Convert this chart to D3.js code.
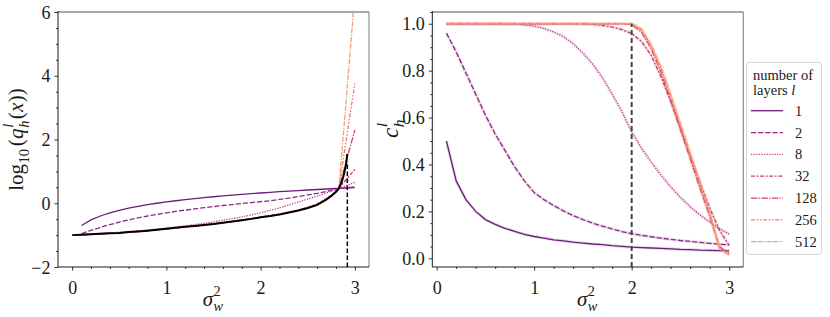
<!DOCTYPE html>
<html><head><meta charset="utf-8">
<script src="https://cdn.jsdelivr.net/npm/d3@7"></script>
<style>body{margin:0;background:#fff}svg{display:block}</style>
</head><body>
<svg id="chart" width="830" height="317"></svg>
<script>
// ---------------- DATA ----------------
const layers = [1, 2, 8, 32, 128, 256, 512];

// left panel: log10 q_h^l(x) vs sigma_w^2
const sigmaLeft = [0.1,0.2,0.3,0.4,0.5,0.6,0.7,0.8,0.9,1.0,1.1,1.2,1.3,1.4,1.5,1.6,1.7,1.8,1.9,2.0,2.1,2.2,2.3,2.4,2.5,2.6,2.7,2.75,2.8,2.83,2.86,2.9,2.95,3.0];
const logQ_l1   = [-0.70,-0.52,-0.40,-0.30,-0.22,-0.155,-0.10,-0.046,0.0,0.041,0.079,0.114,0.146,0.176,0.204,0.230,0.255,0.279,0.301,0.322,0.342,0.362,0.380,0.398,0.415,0.431,0.447,0.455,0.462,0.466,0.471,0.477,0.484,0.491];
const logQ_l2   = [-0.95,-0.85,-0.76,-0.67,-0.59,-0.52,-0.46,-0.40,-0.35,-0.30,-0.255,-0.215,-0.175,-0.14,-0.105,-0.07,-0.04,-0.01,0.02,0.05,0.08,0.12,0.16,0.21,0.26,0.31,0.37,0.40,0.43,0.455,0.465,0.48,0.50,0.52];
const logQ_l8   = [-0.975,-0.96,-0.945,-0.93,-0.91,-0.89,-0.865,-0.84,-0.81,-0.78,-0.745,-0.71,-0.67,-0.63,-0.585,-0.535,-0.48,-0.425,-0.365,-0.30,-0.225,-0.145,-0.055,0.04,0.13,0.225,0.325,0.38,0.43,0.465,0.50,0.545,0.60,0.66];
const logQ_l32  = [-0.985,-0.972,-0.958,-0.943,-0.928,-0.904,-0.884,-0.858,-0.828,-0.798,-0.768,-0.738,-0.708,-0.677,-0.646,-0.606,-0.566,-0.525,-0.484,-0.433,-0.392,-0.340,-0.278,-0.213,-0.13,-0.02,0.15,0.26,0.38,0.466,0.575,0.715,0.89,1.06];
const logQ_l128 = [-0.99,-0.975,-0.96,-0.945,-0.93,-0.905,-0.885,-0.86,-0.83,-0.80,-0.77,-0.74,-0.71,-0.68,-0.65,-0.61,-0.57,-0.53,-0.49,-0.44,-0.40,-0.35,-0.29,-0.23,-0.15,-0.05,0.12,0.23,0.36,0.466,0.79,1.23,1.77,2.3];
const logQ_l256 = [-0.99,-0.975,-0.96,-0.945,-0.93,-0.905,-0.885,-0.86,-0.83,-0.80,-0.77,-0.74,-0.71,-0.68,-0.65,-0.61,-0.57,-0.53,-0.49,-0.44,-0.40,-0.35,-0.29,-0.23,-0.15,-0.05,0.12,0.23,0.36,0.466,1.05,1.83,2.8,3.76];
const logQ_l512 = [-0.99,-0.975,-0.96,-0.945,-0.93,-0.905,-0.885,-0.86,-0.83,-0.80,-0.77,-0.74,-0.71,-0.68,-0.65,-0.61,-0.57,-0.53,-0.49,-0.44,-0.40,-0.35,-0.29,-0.23,-0.15,-0.05,0.12,0.23,0.36,0.466,1.5,2.95,4.75,6.6];

// fixed point q* (black)
const sigmaFixed = [0,0.1,0.2,0.3,0.4,0.5,0.6,0.7,0.8,0.9,1.0,1.1,1.2,1.3,1.4,1.5,1.6,1.7,1.8,1.9,2.0,2.1,2.2,2.3,2.4,2.5,2.6,2.7,2.75,2.8,2.83,2.86,2.88,2.9,2.91,2.92];
const logQFixed  = [-1.0,-0.99,-0.975,-0.96,-0.945,-0.93,-0.905,-0.885,-0.86,-0.83,-0.80,-0.77,-0.74,-0.71,-0.68,-0.65,-0.61,-0.57,-0.53,-0.49,-0.44,-0.40,-0.35,-0.29,-0.23,-0.15,-0.05,0.12,0.23,0.36,0.466,0.66,0.86,1.12,1.3,1.55];
const criticalLeft = 2.92, criticalLeftTop = 1.3;

// right panel: correlation c_h^l vs sigma_w^2
const sigmaRight = [0.1,0.2,0.3,0.4,0.5,0.6,0.7,0.8,0.9,1.0,1.1,1.2,1.3,1.4,1.5,1.6,1.7,1.8,1.9,2.0,2.1,2.2,2.3,2.4,2.5,2.6,2.7,2.8,2.9,3.0];
const corr_l1   = [0.50,0.33,0.25,0.20,0.165,0.145,0.128,0.115,0.102,0.093,0.086,0.079,0.074,0.069,0.065,0.061,0.058,0.054,0.051,0.048,0.046,0.044,0.042,0.040,0.038,0.037,0.035,0.034,0.033,0.032];
const corr_l2   = [0.96,0.88,0.79,0.70,0.61,0.53,0.46,0.39,0.33,0.28,0.25,0.225,0.202,0.182,0.165,0.15,0.137,0.125,0.114,0.105,0.098,0.092,0.086,0.081,0.076,0.072,0.068,0.064,0.060,0.057];
const corr_l8   = [1.0,1.0,1.0,1.0,1.0,1.0,0.999,0.998,0.995,0.99,0.98,0.965,0.945,0.915,0.875,0.828,0.77,0.70,0.625,0.54,0.47,0.41,0.355,0.305,0.26,0.22,0.185,0.155,0.127,0.103];
const corr_l32  = [1.0,1.0,1.0,1.0,1.0,1.0,1.0,1.0,1.0,1.0,1.0,1.0,1.0,1.0,0.999,0.997,0.993,0.986,0.975,0.958,0.925,0.865,0.775,0.67,0.555,0.44,0.325,0.215,0.12,0.055];
const corr_l128 = [1.0,1.0,1.0,1.0,1.0,1.0,1.0,1.0,1.0,1.0,1.0,1.0,1.0,1.0,1.0,1.0,1.0,1.0,1.0,0.997,0.965,0.895,0.795,0.675,0.55,0.425,0.30,0.18,0.05,0.02];
const corr_l256 = [1.0,1.0,1.0,1.0,1.0,1.0,1.0,1.0,1.0,1.0,1.0,1.0,1.0,1.0,1.0,1.0,1.0,1.0,1.0,1.0,0.975,0.905,0.81,0.69,0.565,0.44,0.315,0.19,0.045,0.016];
const corr_l512 = [1.0,1.0,1.0,1.0,1.0,1.0,1.0,1.0,1.0,1.0,1.0,1.0,1.0,1.0,1.0,1.0,1.0,1.0,1.0,1.0,0.978,0.91,0.818,0.70,0.575,0.45,0.325,0.20,0.04,0.014];
const criticalRight = 2.0, criticalRightTop = 1.0;

// ticks
const leftXTicks = [0, 1, 2, 3];
const leftYTicks = [-2, 0, 2, 4, 6];
const rightXTicks = [0, 1, 2, 3];
const rightYTicks = [0.0, 0.2, 0.4, 0.6, 0.8, 1.0];
const legendTitle = ["number of", "layers "];

// ---------------- STYLE ----------------
const colors = ["#6c1d78", "#8e2b81", "#b8458c", "#c93a70", "#dc4558", "#f07a68", "#f5a078"];
const lw = 1.3;
const dashes = [null, [4,1.5], [1,1], [3,1.25,1.5,1.25], [5,1,1,1], [3,1.25,1.25,1.25,1.25,1.25], [4,1,4,1,1,1]]
  .map(d => d ? d.map(v => (v*lw).toFixed(2)).join(",") : null);
const INK = "#1a1a1a";

function pickFont(cands) {
  const c = document.createElement("canvas").getContext("2d");
  const probe = "mmmwwwlliI0123456789 Hqxgy";
  for (const f of cands) {
    for (const base of ["monospace", "sans-serif"]) {
      c.font = `40px ${base}`; const w0 = c.measureText(probe).width;
      c.font = `40px "${f}", ${base}`; const w1 = c.measureText(probe).width;
      if (Math.abs(w1 - w0) > 0.5) return `"${f}"`;
    }
  }
  return "serif";
}
const SERIF = pickFont(["Liberation Serif", "DejaVu Serif", "Noto Serif", "Times New Roman", "FreeSerif", "Tinos"]) + ", serif";

const leftSeries = [logQ_l1, logQ_l2, logQ_l8, logQ_l32, logQ_l128, logQ_l256, logQ_l512];
const rightSeries = [corr_l1, corr_l2, corr_l8, corr_l32, corr_l128, corr_l256, corr_l512];

const svg = d3.select("#chart");

// ---------------- helpers ----------------
function styleText(sel, size) {
  sel.attr("font-family", SERIF).style("font-family", SERIF).style("font-size", size + "px").attr("fill", INK);
}
function mathText(parent, tokens, fs, subShift, supShift) {
  const g = parent.append("g");
  const sh = subShift == null ? 0.22 : subShift;
  const up = supShift == null ? 0.42 : supShift;
  let x = 0;
  const mk = (xx, yy, s, it, txt) => {
    const t = g.append("text").attr("x", xx).attr("y", yy).text(txt);
    styleText(t, s);
    t.style("font-style", it ? "italic" : "normal");
    return t;
  };
  tokens.forEach(tok => {
    if (tok.stack) {
      const s = fs * 0.68;
      const a = mk(x, -fs * up, s, tok.supIt, tok.sup);
      const b = mk(x, fs * sh, s, tok.subIt, tok.sub);
      x += Math.max(a.node().getComputedTextLength(), b.node().getComputedTextLength()) + fs * 0.06;
    } else {
      const s = tok.sub ? fs * 0.7 : fs;
      const t = mk(x, tok.sub ? fs * sh : 0, s, tok.it, tok.t);
      x += t.node().getComputedTextLength() + (tok.kern || 0) * fs;
    }
  });
  g.attr("transform", `translate(${-x / 2},0)`);
  return g;
}

function panel(opts) {
  const { x, y, xTicks, yTicks, xMinor, yMinor, yFmt, id } = opts;
  const [x0, x1] = x.range(), [y1, y0] = y.range();
  const g = svg.append("g");
  svg.append("clipPath").attr("id", id).append("rect")
    .attr("x", x0).attr("y", y0).attr("width", x1 - x0).attr("height", y1 - y0);

  const minorX = g.append("g").attr("transform", `translate(0,${y1})`)
    .call(d3.axisBottom(x).tickValues(xMinor).tickSize(2).tickFormat(""));
  const minorY = g.append("g").attr("transform", `translate(${x0},0)`)
    .call(d3.axisLeft(y).tickValues(yMinor).tickSize(2).tickFormat(""));
  const ax = g.append("g").attr("transform", `translate(0,${y1})`)
    .call(d3.axisBottom(x).tickValues(xTicks).tickSize(3.5).tickPadding(6).tickFormat(d3.format("d")));
  const ay = g.append("g").attr("transform", `translate(${x0},0)`)
    .call(d3.axisLeft(y).tickValues(yTicks).tickSize(3.5).tickPadding(4).tickFormat(yFmt));
  [minorX, minorY, ax, ay].forEach(a => {
    a.attr("font-family", SERIF).attr("font-size", null);
    a.select(".domain").remove();
    a.selectAll("line").attr("stroke", INK).attr("stroke-width", 0.9);
    styleText(a.selectAll("text"), 18);
  });
  ax.selectAll("text").attr("dy", "0.95em");
  ay.selectAll("text").attr("dy", "0.34em");

  const plot = svg.append("g").attr("clip-path", `url(#${id})`);
  const spines = () => {
    const s = svg.append("g");
    s.append("line").attr("x1", x0).attr("x2", x1).attr("y1", y0).attr("y2", y0).attr("stroke", "#a8a8a8").attr("stroke-width", 2);
    s.append("line").attr("x1", x1).attr("x2", x1).attr("y1", y0).attr("y2", y1).attr("stroke", "#8f8f8f").attr("stroke-width", 1.2);
    s.append("line").attr("x1", x0).attr("x2", x0).attr("y1", y0 - 1).attr("y2", y1).attr("stroke", INK).attr("stroke-width", 1);
    s.append("line").attr("x1", x0).attr("x2", x1).attr("y1", y1).attr("y2", y1).attr("stroke", INK).attr("stroke-width", 1);
  };
  return { plot, spines };
}

// ---------------- LEFT PANEL ----------------
const xL = d3.scaleLinear([-0.15, 3.15], [58, 369]);
const yL = d3.scaleLinear([-2, 6], [267, 12]);
const minorL_x = d3.range(0, 3.01, 0.2).map(v => +v.toFixed(2)).filter(v => !leftXTicks.includes(v));
const minorL_y = d3.range(-2, 6.01, 0.5).filter(v => !leftYTicks.includes(v));
const L = panel({ x: xL, y: yL, xTicks: leftXTicks, yTicks: leftYTicks, xMinor: minorL_x, yMinor: minorL_y,
  yFmt: d => (d < 0 ? "\u2212" + Math.abs(d) : "" + d), id: "clipL" });

const lineL = d3.line().x(d => xL(d[0])).y(d => yL(d[1]));
layers.forEach((l, i) => {
  L.plot.append("path")
    .attr("d", lineL(sigmaLeft.map((s, j) => [s, leftSeries[i][j]])))
    .attr("fill", "none").attr("stroke", colors[i]).attr("stroke-width", lw)
    .attr("stroke-dasharray", dashes[i]);
});
L.plot.append("path")
  .attr("d", lineL(sigmaFixed.map((s, j) => [s, logQFixed[j]])))
  .attr("fill", "none").attr("stroke", "#000").attr("stroke-width", 2);
L.plot.append("line")
  .attr("x1", xL(criticalLeft)).attr("x2", xL(criticalLeft))
  .attr("y1", yL(-2)).attr("y2", yL(criticalLeftTop))
  .attr("stroke", "#000").attr("stroke-width", 1.5).attr("stroke-dasharray", "4.5,2.5");
L.spines();

// ---------------- RIGHT PANEL ----------------
const xR = d3.scaleLinear([-0.045, 3.145], [432.3, 743.3]);
const yR = d3.scaleLinear([-0.037, 1.05], [267, 12]);
const minorR_x = d3.range(0, 3.01, 0.2).map(v => +v.toFixed(2)).filter(v => !rightXTicks.includes(v));
const minorR_y = d3.range(0, 1.051, 0.05).map(v => +v.toFixed(2)).filter(v => !rightYTicks.map(t => +t.toFixed(2)).includes(v));
const R = panel({ x: xR, y: yR, xTicks: rightXTicks, yTicks: rightYTicks, xMinor: minorR_x, yMinor: minorR_y,
  yFmt: d3.format(".1f"), id: "clipR" });

const lineR = d3.line().x(d => xR(d[0])).y(d => yR(d[1]));
layers.forEach((l, i) => {
  const dd = lineR(sigmaRight.map((s, j) => [s, rightSeries[i][j]]));
  R.plot.append("path").attr("d", dd).attr("fill", "none").attr("stroke", colors[i])
    .attr("stroke-width", 3.2).attr("stroke-opacity", 0.15).attr("stroke-linejoin", "round");
  R.plot.append("path").attr("d", dd).attr("fill", "none").attr("stroke", colors[i])
    .attr("stroke-width", lw).attr("stroke-dasharray", dashes[i]);
});
R.plot.append("line")
  .attr("x1", xR(criticalRight)).attr("x2", xR(criticalRight))
  .attr("y1", yR(-0.037)).attr("y2", yR(criticalRightTop))
  .attr("stroke", "#444").attr("stroke-width", 2).attr("stroke-dasharray", "5,3");
R.spines();

// ---------------- AXIS LABELS ----------------
const sigmaTokens = [{ t: "\u03C3", it: true, kern: 0.02 }, { stack: true, sup: "2", sub: "w", subIt: true }];
[xL, xR].forEach(sc => {
  const [a, b] = sc.range();
  const g = svg.append("g").attr("transform", `translate(${(a + b) / 2},306)`);
  mathText(g, sigmaTokens, 21, 0.26, 0.5);
});
{
  const g = svg.append("g").attr("transform", `translate(23,${(12 + 267) / 2}) rotate(-90)`);
  mathText(g, [
    { t: "log", it: false, kern: 0.02 }, { t: "10", sub: true, kern: 0.12 }, { t: "(", kern: 0.02 },
    { t: "q", it: true, kern: 0.03 }, { stack: true, sup: "l", supIt: true, sub: "h", subIt: true },
    { t: "(", kern: 0.02 }, { t: "x", it: true, kern: 0.02 }, { t: ")" }, { t: ")" }
  ], 21, 0.28, 0.48);
}
{
  const g = svg.append("g").attr("transform", `translate(398,128) rotate(-90)`);
  mathText(g, [{ t: "c", it: true, kern: 0.03 }, { stack: true, sup: "l", supIt: true, sub: "h", subIt: true }], 23, 0.28, 0.48);
}

// ---------------- LEGEND ----------------
const leg = svg.append("g");
leg.append("rect").attr("x", 746.5).attr("y", 62.5).attr("width", 75).attr("height", 192).attr("rx", 3)
  .attr("fill", "#fff").attr("fill-opacity", 0.8).attr("stroke", "#d6d6d6").attr("stroke-width", 1);
const t1 = leg.append("text").attr("x", 753).attr("y", 80).text(legendTitle[0]);
const t2 = leg.append("text").attr("x", 753).attr("y", 95).text(legendTitle[1]);
t2.append("tspan").style("font-style", "italic").text("l");
styleText(t1, 14.5); styleText(t2, 14.5);
const legY = d3.scaleLinear([0, layers.length - 1], [110.7, 241.7]);
layers.forEach((l, i) => {
  const yy = legY(i);
  leg.append("line").attr("x1", 751).attr("x2", 783).attr("y1", yy).attr("y2", yy)
    .attr("stroke", colors[i]).attr("stroke-width", lw).attr("stroke-dasharray", dashes[i]);
  const t = leg.append("text").attr("x", 795).attr("y", yy).attr("dy", "0.35em").text(l);
  styleText(t, 14.5);
});
</script>
</body></html>
